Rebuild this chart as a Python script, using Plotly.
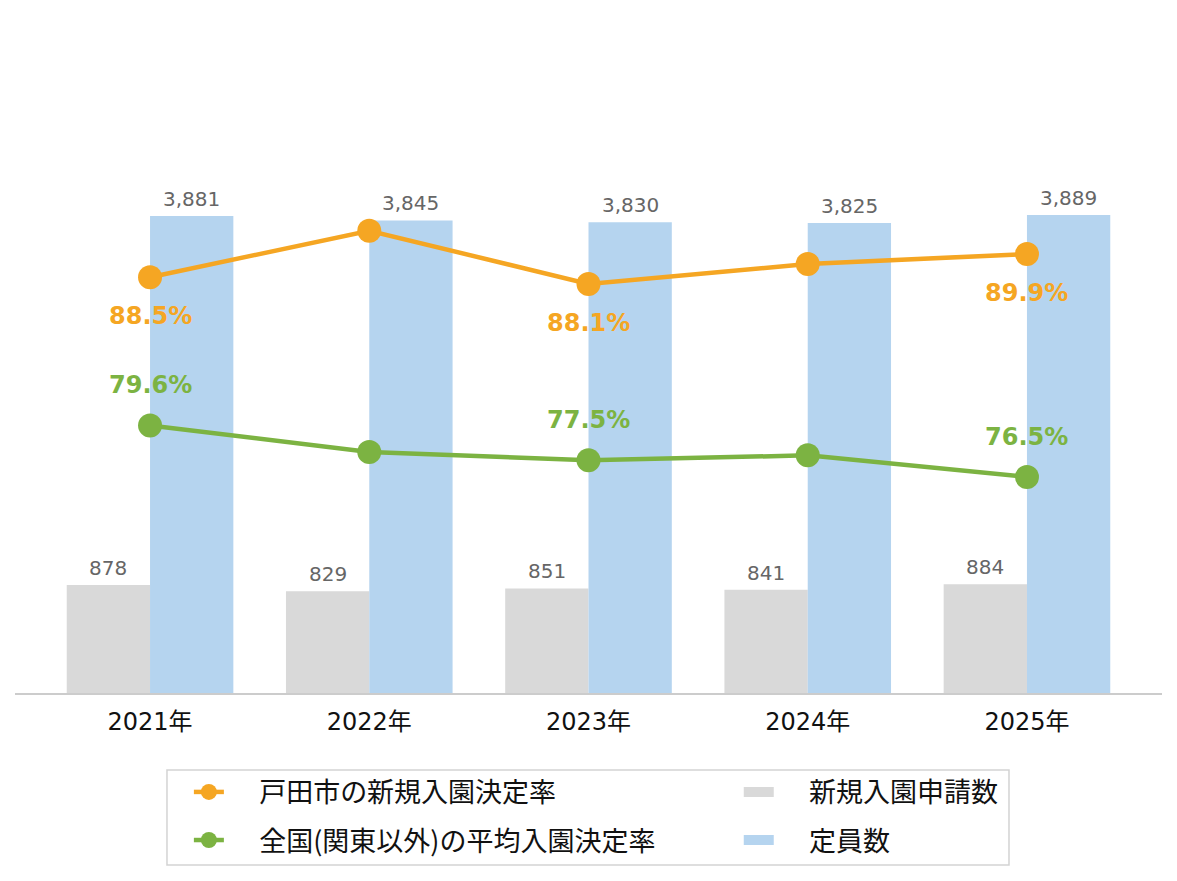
import plotly.graph_objects as go

years = ["2021年", "2022年", "2023年", "2024年", "2025年"]
applications = [878, 829, 851, 841, 884]
capacity = [3881, 3845, 3830, 3825, 3889]
toda_rate = [88.5, 91.3, 88.1, 89.3, 89.9]
national_rate = [79.6, 78.0, 77.5, 77.8, 76.5]
rate_label_shown = [True, False, True, False, True]

ORANGE = "#F5A623"
GREEN = "#7CB342"
BLUE = "#B5D4EF"
GREY = "#D9D9D9"
NUM_FONT = "DejaVu Sans, Noto Sans CJK JP"
JP_FONT = "Noto Sans CJK JP, DejaVu Sans"
PAD = "\u00a0" * 5

fig = go.Figure()

fig.add_trace(go.Bar(
    x=years, y=applications, name="新規入園申請数",
    marker=dict(color=GREY, line=dict(width=0)),
    showlegend=False, hoverinfo="skip",
))
fig.add_trace(go.Bar(
    x=years, y=capacity, name="定員数",
    marker=dict(color=BLUE, line=dict(width=0)),
    showlegend=False, hoverinfo="skip",
))
fig.add_trace(go.Scatter(
    x=years, y=toda_rate, name=PAD + "戸田市の新規入園決定率", yaxis="y2",
    mode="lines+markers", line=dict(color=ORANGE, width=4.5),
    marker=dict(color=ORANGE, size=24), legend="legend", legendgroup="c",
    hoverinfo="skip",
))
fig.add_trace(go.Scatter(
    x=years, y=national_rate, name=PAD + "全国(関東以外)の平均入園決定率", yaxis="y2",
    mode="lines+markers", line=dict(color=GREEN, width=4.5),
    marker=dict(color=GREEN, size=24), legend="legend", legendgroup="d",
    hoverinfo="skip",
))
# legend keys for the bar series (wide swatches like the reference)
fig.add_trace(go.Scatter(
    x=[None], y=[None], name=PAD + "新規入園申請数", mode="lines",
    line=dict(color=GREY, width=18), legend="legend2", legendgroup="a",
    hoverinfo="skip",
))
fig.add_trace(go.Scatter(
    x=[None], y=[None], name=PAD + "定員数", mode="lines",
    line=dict(color=BLUE, width=18), legend="legend2", legendgroup="b",
    hoverinfo="skip",
))

annotations = []
for yr, a, c in zip(years, applications, capacity):
    for val, off in ((a, -0.19), (c, 0.19)):
        annotations.append(dict(
            x=yr, y=val, xref="x", yref="y", text=f"{val:,}", showarrow=False,
            xshift=off * 219.4, yanchor="bottom", yshift=3,
            font=dict(family=NUM_FONT, size=20, color="#666666"),
        ))
for yr, t, n, show in zip(years, toda_rate, national_rate, rate_label_shown):
    if not show:
        continue
    annotations.append(dict(
        x=yr, y=t, xref="x", yref="y2", text=f"<b>{t:.1f}%</b>", showarrow=False,
        yanchor="middle", yshift=-39,
        font=dict(family=NUM_FONT, size=24, color=ORANGE),
    ))
    annotations.append(dict(
        x=yr, y=n, xref="x", yref="y2", text=f"<b>{n:.1f}%</b>", showarrow=False,
        yanchor="middle", yshift=40,
        font=dict(family=NUM_FONT, size=24, color=GREEN),
    ))

fig.update_layout(
    width=1177, height=881,
    margin=dict(l=15, r=15, t=140, b=188),
    paper_bgcolor="white", plot_bgcolor="white",
    barmode="group", bargap=0.24, bargroupgap=0,
    showlegend=True,
    xaxis=dict(
        type="category", range=[-0.616, 4.616], showgrid=False,
        showline=True, linecolor="#CCCCCC", linewidth=1.5,
        ticks="", ticklabelstandoff=6,
        tickfont=dict(family=NUM_FONT, size=24, color="#111111"),
        fixedrange=True,
    ),
    yaxis=dict(range=[0, 4500], visible=False, showgrid=False, fixedrange=True),
    yaxis2=dict(range=[63.52, 96.75], overlaying="y", visible=False,
                showgrid=False, fixedrange=True),
    legend=dict(
        x=0.1516, y=-0.1354, xanchor="left", yanchor="top",
        orientation="v", bgcolor="rgba(0,0,0,0)", borderwidth=0,
        font=dict(family=JP_FONT, size=27, color="#111111"),
        tracegroupgap=10, traceorder="grouped",
    ),
    legend2=dict(
        x=0.631, y=-0.1354, xanchor="left", yanchor="top",
        orientation="v", bgcolor="rgba(0,0,0,0)", borderwidth=0,
        font=dict(family=JP_FONT, size=27, color="#111111"),
        tracegroupgap=10, traceorder="grouped",
    ),
    annotations=annotations,
    shapes=[dict(
        type="rect", xref="paper", yref="paper",
        x0=0.1325, x1=0.8666, y0=-0.311, y1=-0.1392,
        line=dict(color="#D3D3D3", width=1.5), fillcolor="rgba(0,0,0,0)",
    )],
)

fig.write_html("out.html")
